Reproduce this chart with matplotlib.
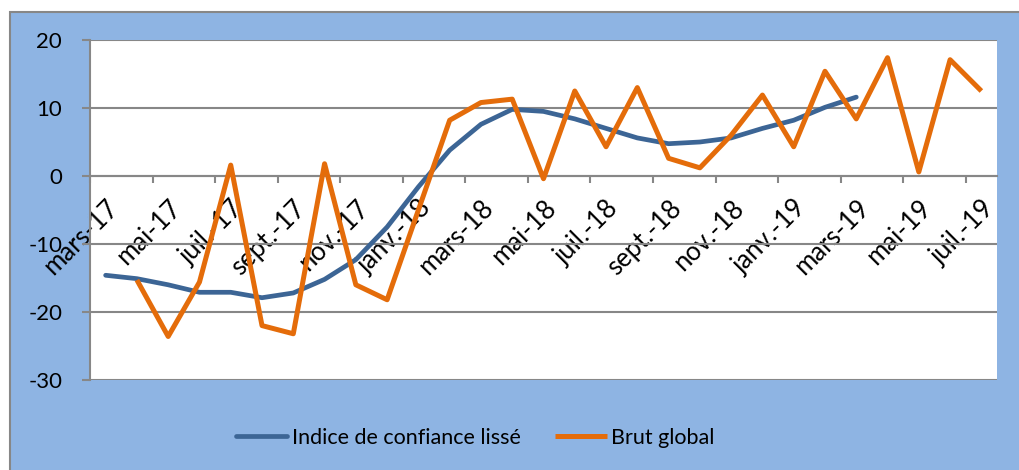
import numpy as np
import matplotlib
matplotlib.use("Agg")
import matplotlib.pyplot as plt
import matplotlib.patches as patches

plt.rcParams['axes.unicode_minus'] = False

months = ['mars-17', 'avr.-17', 'mai-17', 'juin-17', 'juil.-17', 'août-17',
          'sept.-17', 'oct.-17', 'nov.-17', 'déc.-17', 'janv.-18', 'févr.-18',
          'mars-18', 'avr.-18', 'mai-18', 'juin-18', 'juil.-18', 'août-18',
          'sept.-18', 'oct.-18', 'nov.-18', 'déc.-18', 'janv.-19', 'févr.-19',
          'mars-19', 'avr.-19', 'mai-19', 'juin-19', 'juil.-19']

# indice lissé : mars-17 -> mars-19
lisse = [-14.6, -15.1, -16.0, -17.1, -17.1, -17.9, -17.2, -15.2, -12.3, -7.5,
         -1.6, 3.8, 7.6, 9.8, 9.5, 8.4, 7.0, 5.6, 4.75, 5.0, 5.6, 7.0, 8.2,
         10.1, 11.6]

# brut global : avr.-17 -> juil.-19
brut = [-15.3, -23.6, -15.6, 1.6, -22.0, -23.2, 1.8, -16.0, -18.2, -5.0,
        8.2, 10.8, 11.3, -0.4, 12.5, 4.3, 13.0, 2.6, 1.2, 6.0, 11.9, 4.3,
        15.4, 8.4, 17.4, 0.6, 17.1, 12.5]

blue = '#3C6595'
orange = '#E46C0A'
bg = '#8EB4E3'
grey = '#878787'
FONT = 'Lato'

fig = plt.figure(figsize=(10.2, 4.7), dpi=100)
fig.patch.set_facecolor('white')
frame = patches.Rectangle((10 / 1020, -0.05), 1.1, 1.05 - 12 / 470,
                          transform=fig.transFigure, facecolor=bg,
                          edgecolor=grey, linewidth=1.5, zorder=-5)
fig.patches.append(frame)

ax = fig.add_axes([90 / 1020, 90 / 470, 907 / 1020, 340 / 470])
ax.set_facecolor('white')

x1 = np.arange(len(lisse))
x2 = np.arange(1, len(brut) + 1)
ax.plot(x1, lisse, color=blue, lw=3.4, solid_capstyle='round',
        label='Indice de confiance lissé', zorder=3)
ax.plot(x2, brut, color=orange, lw=3.6, solid_capstyle='butt',
        label='Brut global', zorder=4)

ax.set_xlim(-0.5, len(months) - 0.5)
ax.set_ylim(-30, 20)
ax.set_yticks(np.arange(-30, 21, 10))
ax.yaxis.grid(True, color=grey, lw=1.5)
ax.set_axisbelow(True)

for s in ['top', 'right']:
    ax.spines[s].set_visible(False)
ax.spines['left'].set_color(grey)
ax.spines['left'].set_linewidth(1.5)
ax.spines['bottom'].set_position(('data', 0))
ax.spines['bottom'].set_color(grey)
ax.spines['bottom'].set_linewidth(1.5)

ax.tick_params(axis='y', length=6, width=1.5, color=grey, pad=14,
               labelsize=16)
for t in ax.get_yticklabels():
    t.set_fontfamily(FONT)

# tick marks between categories, labels on categories
ax.set_xticks(np.arange(-0.5, len(months), 2))
ax.set_xticklabels([])
ax.tick_params(axis='x', which='major', length=5, width=1.5, color=grey)
ax.set_xticks(np.arange(0, len(months), 2), minor=True)
ax.set_xticklabels(months[::2], minor=True, rotation=45, ha='right',
                   rotation_mode='anchor', fontsize=18.5, fontfamily=FONT)
ax.tick_params(axis='x', which='minor', length=0, pad=14)
for t in ax.get_xticklabels(minor=True):
    t.set_x(t.get_position()[0] + 0.2)

leg = fig.legend(loc='center', bbox_to_anchor=(475 / 1020, 1 - 438 / 470),
                 ncol=2, frameon=False, handlelength=2.4, handletextpad=0.2,
                 columnspacing=1.6, prop={'family': FONT, 'size': 15.5})

fig.savefig('out.png', dpi=100)
